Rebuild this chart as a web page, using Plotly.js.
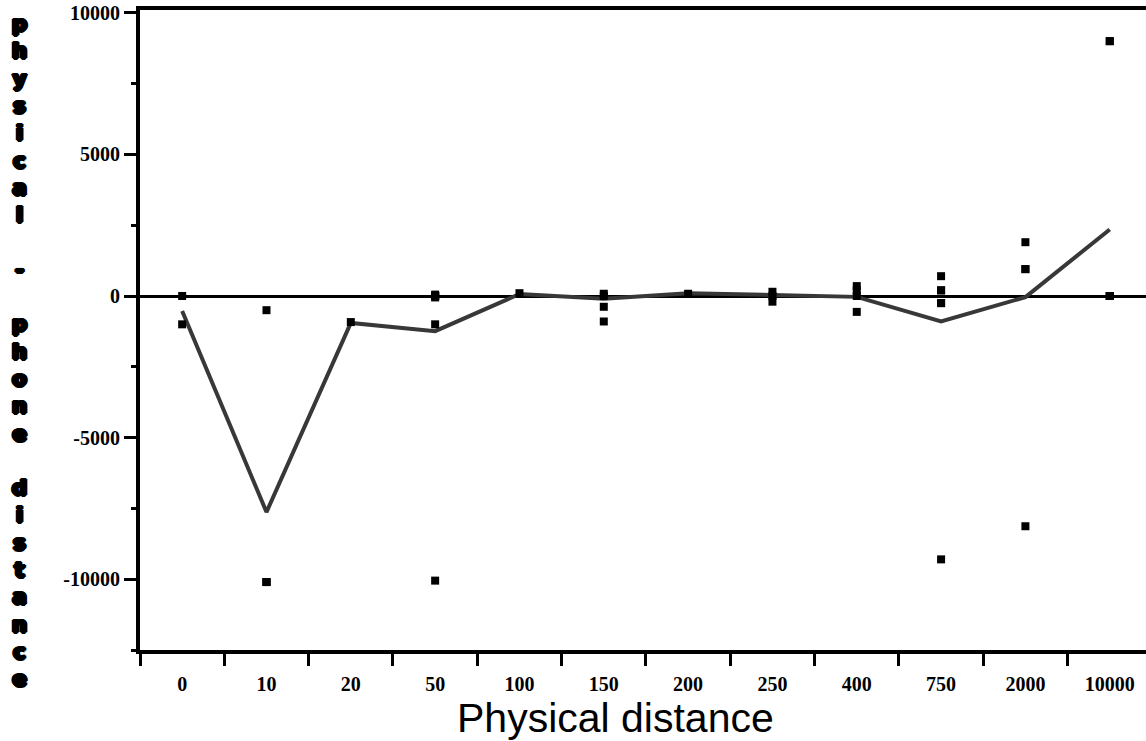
<!DOCTYPE html>
<html>
<head>
<meta charset="utf-8">
<script src="https://cdn.plot.ly/plotly-3.0.1.min.js"></script>
<style>html,body{margin:0;padding:0;background:#fff;}#chart{width:1146px;height:741px;}</style>
</head>
<body>
<div id="chart"></div>
<script>
// Categories (physical distance bins)
const categories = ["0","10","20","50","100","150","200","250","400","750","2000","10000"];

// Individual observations: category label and difference value
const pointCategory = [
  "0","0",
  "10","10","10","10",
  "20",
  "50","50","50","50","50","50","50",
  "100",
  "150","150","150","150",
  "200",
  "250","250","250",
  "400","400","400","400",
  "750","750","750","750","750","750",
  "2000","2000","2000","2000",
  "10000","10000","10000","10000","10000"
];
const pointValue = [
  0, -1000,
  -500, -10100, -10100, -10100,
  -920,
  0, 0, 50, -50, 0, -1000, -10050,
  100,
  80, 0, -380, -900,
  80,
  150, 0, -200,
  350, 200, 0, -560,
  700, 200, 200, -250, -250, -9300,
  1900, 950, 950, -8130,
  9000, 9000, 0, 0, 0
];

// Mean line per category
const meanValue = [-530, -7630, -950, -1240, 70, -100, 100, 40, -30, -900, -40, 2350];

// Tick labels
const yTickVals = [-10000, -5000, 0, 5000, 10000];
const yTickText = ["-10000", "-5000", "0", "5000", "10000"];

const yTitle = "physical - phone distance";
const xTitle = "Physical distance";

const W = 1146, H = 741;
const mL = 140, mR = 0, mT = 10, mB = 91;
const plotW = W - mL - mR, plotH = H - mT - mB;

const traces = [
  {
    type: "scatter", mode: "lines",
    x: categories, y: meanValue,
    line: {color: "#383838", width: 4},
    hoverinfo: "skip", showlegend: false
  },
  {
    type: "scatter", mode: "markers",
    x: pointCategory, y: pointValue,
    marker: {symbol: "square", size: 8, color: "#000"},
    showlegend: false
  }
];

// vertical stacked y-axis title: one character per line in a single text
const stacked = Array.from(yTitle).map(c => (c === " " ? "&nbsp;" : c)).join("<br>");
const annotations = [
  {
    text: stacked, xref: "paper", yref: "paper",
    x: (19 - mL) / plotW, y: (H - mB - 351) / plotH,
    xanchor: "center", yanchor: "middle", align: "center", showarrow: false,
    font: {family: "DejaVu Sans", size: 21, color: "#000", weight: 900,
           shadow: "2px 0px 0px #000, -2px 0px 0px #000, 1px 1px 0px #000, -1px -1px 0px #000, 1px -1px 0px #000, -1px 1px 0px #000, 0px 2px 0px #000, 0px -1px 0px #000"}
  },
  {
    text: xTitle, xref: "paper", yref: "paper",
    x: (615 - mL) / plotW, y: (H - mB - 718) / plotH,
    xanchor: "center", yanchor: "middle", showarrow: false,
    font: {family: "Liberation Sans", size: 41, color: "#000"}
  }
];

const layout = {
  width: W, height: H,
  margin: {l: mL, r: mR, t: mT, b: mB, pad: 0},
  paper_bgcolor: "#fff", plot_bgcolor: "#fff",
  showlegend: false,
  xaxis: {
    type: "category",
    categoryorder: "array", categoryarray: categories,
    range: [-0.5, 11.43],
    tickson: "boundaries",
    ticks: "outside", ticklen: 12, tickwidth: 3, tickcolor: "#000",
    showline: true, linecolor: "#000", linewidth: 4, mirror: true,
    showgrid: false, zeroline: false,
    ticklabelstandoff: 13,
    tickfont: {family: "Liberation Serif", size: 20, color: "#000", weight: "bold"}
  },
  yaxis: {
    range: [-12500, 10100],
    tickmode: "array", tickvals: yTickVals, ticktext: yTickText,
    ticks: "outside", ticklen: 12, tickwidth: 3, tickcolor: "#000",
    minor: {dtick: 2500, tick0: 0, ticks: "outside", ticklen: 5, tickwidth: 3, tickcolor: "#000", showgrid: false},
    showline: true, linecolor: "#000", linewidth: 4,
    showgrid: false,
    zeroline: true, zerolinecolor: "#000", zerolinewidth: 3,
    tickfont: {family: "Liberation Serif", size: 20, color: "#000", weight: "bold"}
  },
  annotations: annotations
};

Plotly.newPlot("chart", traces, layout, {displayModeBar: false, staticPlot: true});
</script>
</body>
</html>
